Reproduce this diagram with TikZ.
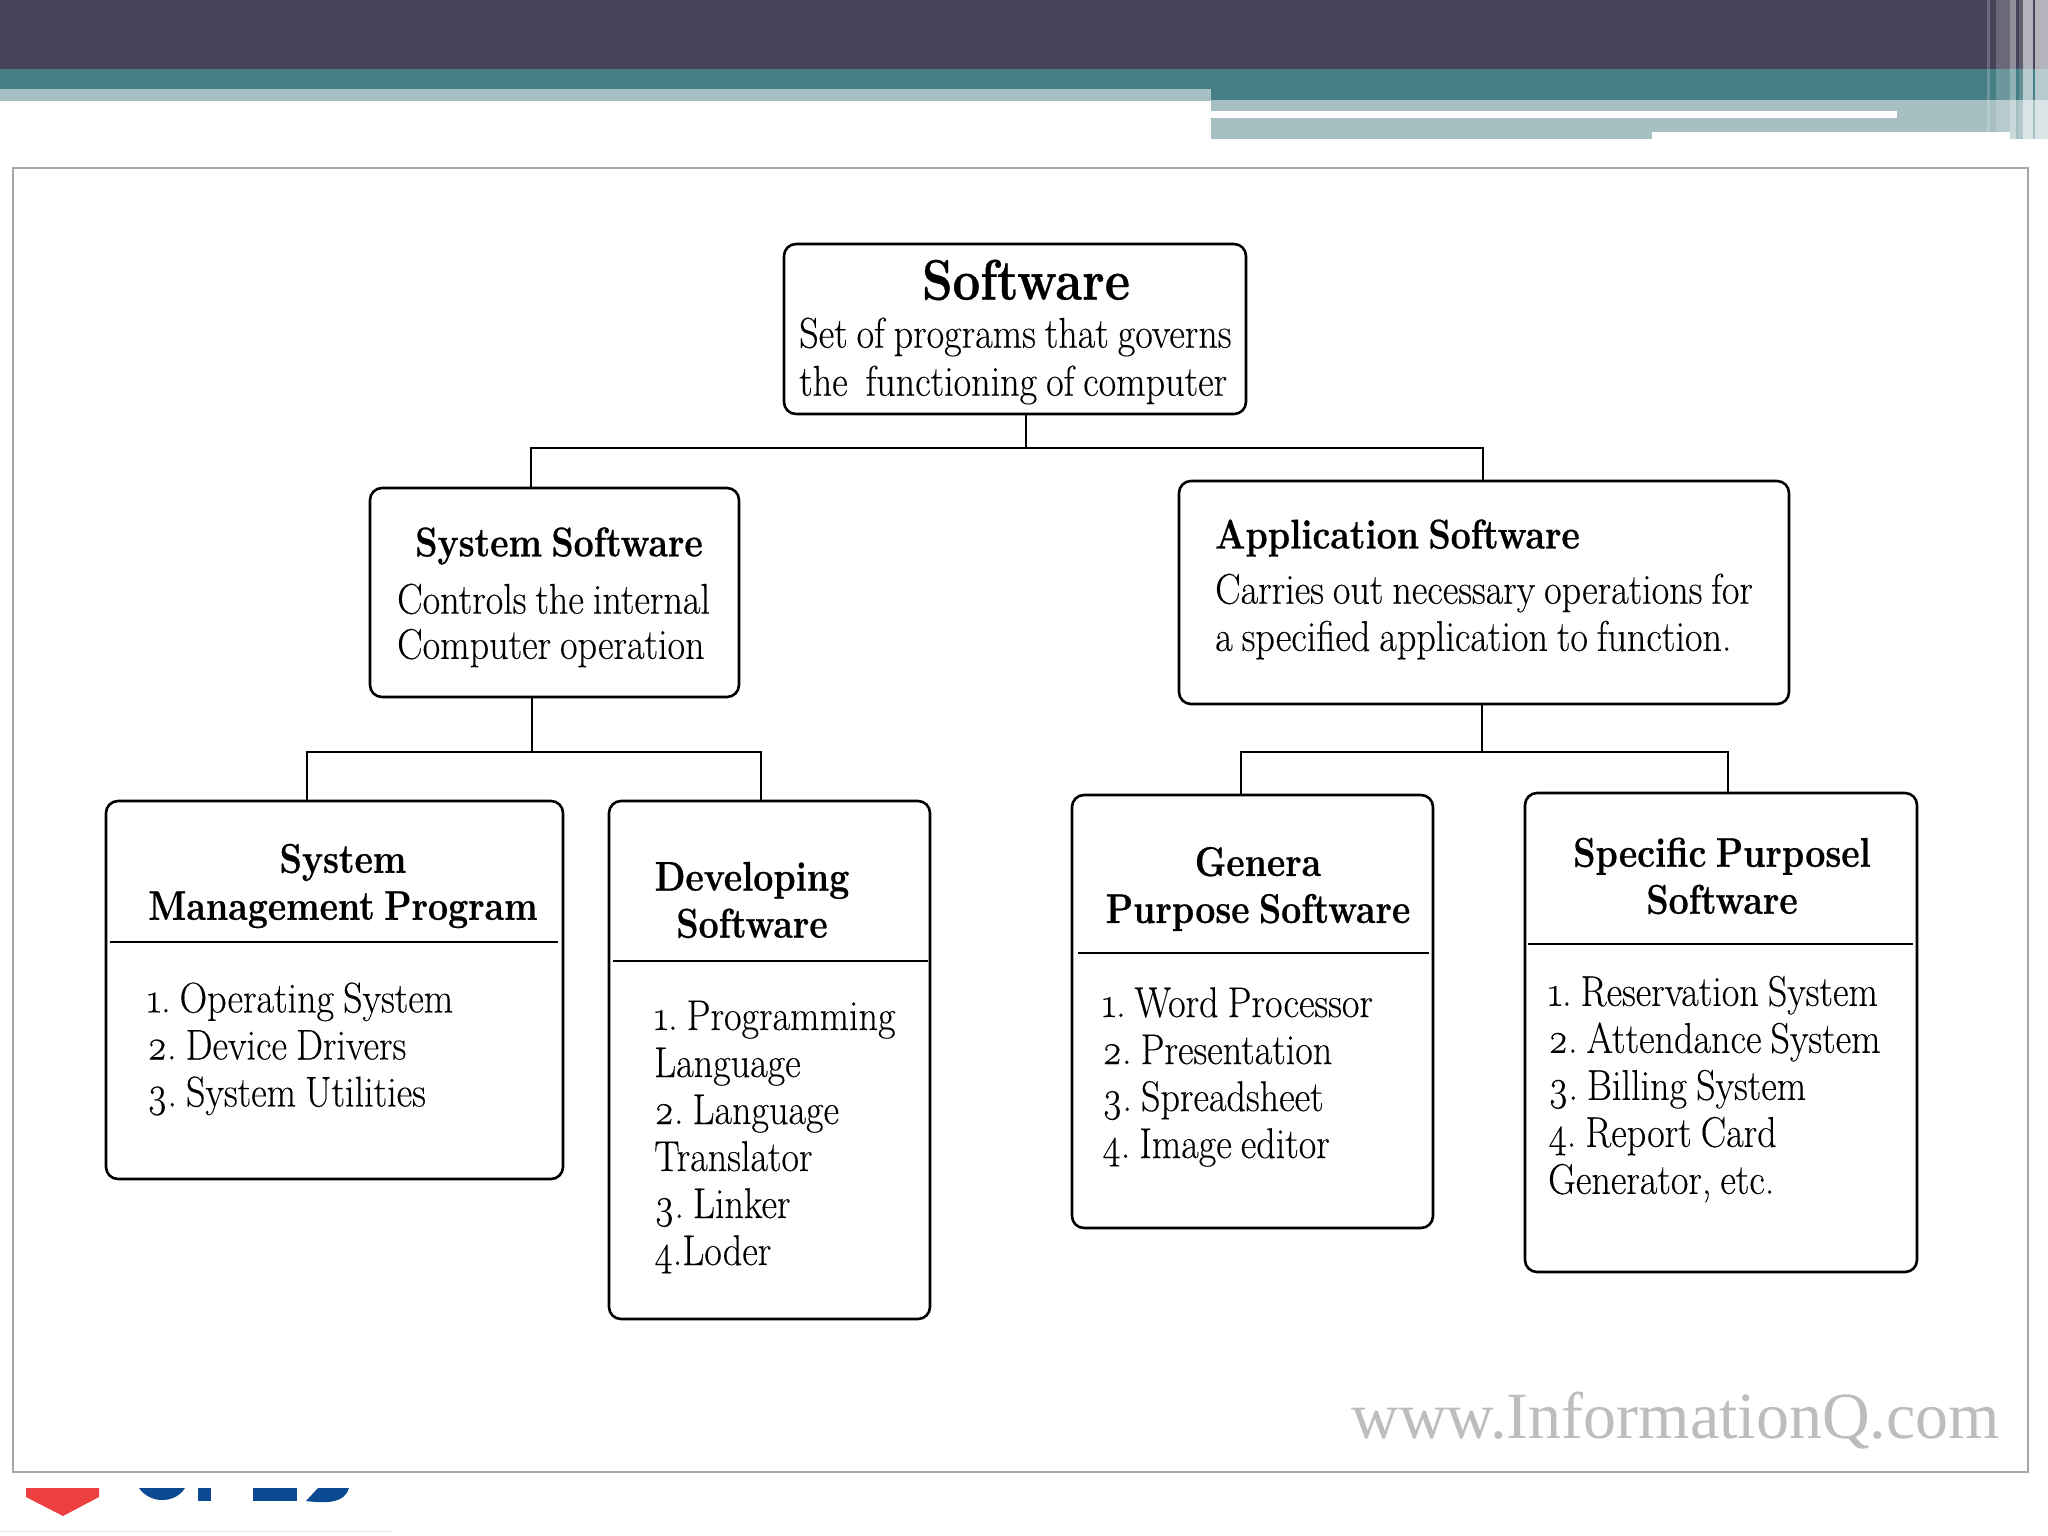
\documentclass[tikz,border=0pt]{standalone}
\usepackage{fontspec}
\setmainfont{Latin Modern Roman}[Numbers=OldStyle,UprightFeatures={FakeStretch=0.887,WordSpace=0.78,FakeBold=0.25},BoldFeatures={FakeStretch=0.86,WordSpace=0.7,FakeBold=0.6}]
\newfontfamily\wmfont{Liberation Serif}[FakeStretch=1.0]
\definecolor{hdark}{HTML}{454458}
\definecolor{hteal}{HTML}{467E85}
\definecolor{hpale}{HTML}{A5BFC3}
\definecolor{frameg}{HTML}{A8A6AC}
\definecolor{logored}{HTML}{EE4040}
\definecolor{logoblue}{HTML}{0B4A92}
\tikzset{
 x=1pt,y=-1pt,
 card/.style={draw=black,line width=2.6pt,rounded corners=12pt,fill=white,outer sep=0pt,inner sep=0pt,anchor=north west},
 conn/.style={draw=black,line width=2.6pt},
 rule/.style={draw=black,line width=2.8pt},
 body/.style={anchor=west,font=\frenchspacing\fontsize{43}{47}\selectfont,inner sep=0pt,align=left},
 head/.style={anchor=center,font=\bfseries\fontsize{41.5}{47}\selectfont,inner sep=0pt,align=center},
}
\begin{document}
\begin{tikzpicture}
\useasboundingbox (0,0) rectangle (2048,1536);
\fill[white] (0,0) rectangle (2048,1536);
% header
\fill[hpale] (0,89) rectangle (1211,101);
\fill[hpale] (1211,100) rectangle (2048,139);
\fill[white] (1211,111) rectangle (1897,118);
\fill[white] (1652,132) rectangle (2010,139);
\fill[hteal] (0,69) rectangle (2048,89);
\fill[hteal] (1211,89) rectangle (2048,100);
\fill[hdark] (0,0) rectangle (2048,69);
% stripes
\fill[white,opacity=.2] (1987,0) rectangle (1990,132);
\fill[white,opacity=.2] (1996,0) rectangle (2010,132);
\fill[white,opacity=.4] (2010,0) rectangle (2016,139);
\fill[white,opacity=.15] (2019,0) rectangle (2023,139);
\fill[white,opacity=.6] (2023,0) rectangle (2033,139);
\fill[white,opacity=.6] (2035,0) rectangle (2048,139);
% logo remnants and frame
\fill[logored] (26,1488) -- (99,1488) -- (99,1497) -- (63,1516) -- (26,1497) -- cycle;
\fill[logoblue] (139,1488) .. controls (150,1504) and (175,1504) .. (185,1488) -- cycle;
\fill[logoblue] (198,1488) rectangle (211,1501);
\fill[logoblue] (253,1488) rectangle (297,1501);
\fill[logoblue] (306,1501) .. controls (330,1504) and (345,1502) .. (349,1488) -- (318,1488) -- cycle;
\fill[black!10] (0,1531) rectangle (392,1532);
\draw[frameg,line width=1.5pt,fill=white] (13,168) rectangle (2028,1472);
\node[inner sep=0pt,anchor=east,text=black!26,font=\wmfont\fontsize{66}{66}\selectfont] (wm) at (2000,1421) {www.InformationQ.com};
% boxes
\node[card] (sw) at (784,244) {\rule{0pt}{170pt}\rule{462pt}{0pt}};
\node[card] (sys) at (370,488) {\rule{0pt}{209pt}\rule{369pt}{0pt}};
\node[card] (app) at (1179,481) {\rule{0pt}{223pt}\rule{610pt}{0pt}};
\node[card] (smp) at (106,801) {\rule{0pt}{378pt}\rule{457pt}{0pt}};
\node[card] (dev) at (609,801) {\rule{0pt}{518pt}\rule{321pt}{0pt}};
\node[card] (gen) at (1072,795) {\rule{0pt}{433pt}\rule{361pt}{0pt}};
\node[card] (spec) at (1525,793) {\rule{0pt}{479pt}\rule{392pt}{0pt}};
% connectors
\coordinate (busA) at (1026,448);
\coordinate (busAl) at (531,448);
\coordinate (busAr) at (1483,448);
\draw[conn] (sw.south -| busA) -- (busA);
\draw[conn] (sys.north -| busAl) -- (busAl) -- (busAr) -- (app.north -| busAr);
\coordinate (busB) at (532,752);
\coordinate (busBl) at (307,752);
\coordinate (busBr) at (761,752);
\draw[conn] (sys.south -| busB) -- (busB);
\draw[conn] (smp.north -| busBl) -- (busBl) -- (busBr) -- (dev.north -| busBr);
\coordinate (busC) at (1482,752);
\coordinate (busCl) at (1241,752);
\coordinate (busCr) at (1728,752);
\draw[conn] (app.south -| busC) -- (busC);
\draw[conn] (gen.north -| busCl) -- (busCl) -- (busCr) -- (spec.north -| busCr);
% rules
\draw[rule] (110,942) -- (558,942);
\draw[rule] (613,961) -- (928,961);
\draw[rule] (1078,953) -- (1429,953);
\draw[rule] (1528,944) -- (1913,944);
% text
\node[inner sep=0pt,font=\bfseries\fontsize{57}{60}\selectfont] (t1) at (1026,280) {Software};
\node[body] (t2) at (799,337) {Set of programs that governs};
\node[body] (t3) at (799,385) {the\ \ functioning of computer};
\node[head] (t4) at (559,546) {System Software};
\node[body] (t5) at (397,599) {Controls the internal};
\node[body] (t6) at (397,648) {Computer operation};
\node[head,anchor=west] (t7) at (1215,538) {Application Software};
\node[body] (t8) at (1215,593) {Carries out necessary operations for};
\node[body] (t9) at (1215,640) {a specified application to function.};
\node[head] (t10) at (343,886) {System\\Management Program};
\node[body] (t11) at (147,1049) {1. Operating System\\2. Device Drivers\\3. System Utilities};
\node[head] (t12) at (752,900) {Developing\\Software};
\node[body] (t13) at (654,1137) {1. Programming\\Language\\2. Language\\Translator\\3. Linker\\4.Loder};
\node[head] (t14) at (1258,889) {Genera\\Purpose Software};
\node[body] (t15) at (1102,1077) {1. Word Processor\\2. Presentation\\3. Spreadsheet\\4. Image editor};
\node[head] (t16) at (1722,876) {Specific Purposel\\Software};
\node[body] (t17) at (1548,1089) {1. Reservation System\\2. Attendance System\\3. Billing System\\4. Report Card\\Generator, etc.};
\end{tikzpicture}
\end{document}
